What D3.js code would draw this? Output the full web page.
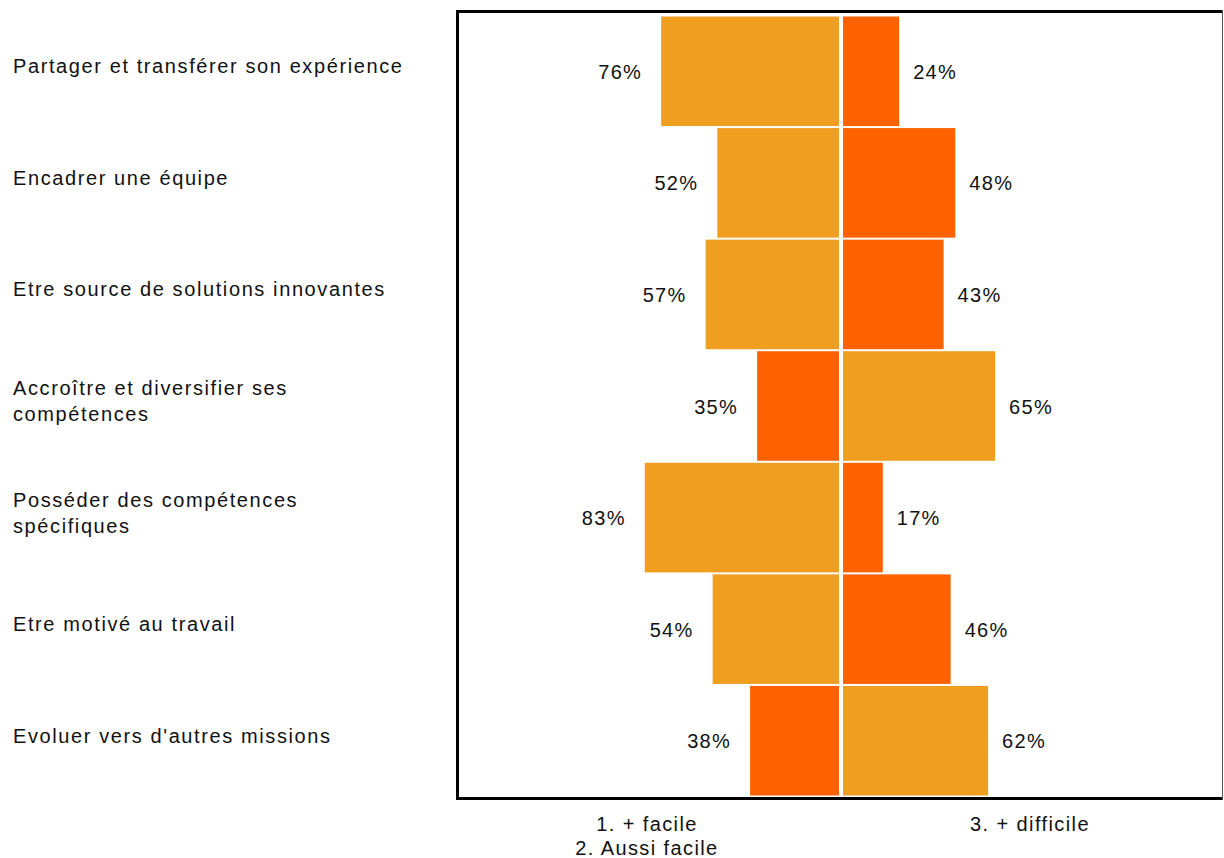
<!DOCTYPE html>
<meta charset="utf-8">
<script src="https://d3js.org/d3.v7.min.js"></script>
<style>
  body { margin: 0; background: #fff; }
  text { font-family: Arial, "Liberation Sans", sans-serif; font-size: 20px; fill: #111; letter-spacing: 1.6px; }
</style>
<div id="chart"></div>
<script>

// data
const categories = [
  ["Partager et transférer son expérience"],
  ["Encadrer une équipe"],
  ["Etre source de solutions innovantes"],
  ["Accroître et diversifier ses", "compétences"],
  ["Posséder des compétences", "spécifiques"],
  ["Etre motivé au travail"],
  ["Evoluer vers d'autres missions"]
]
const easier = [76, 52, 57, 35, 83, 54, 38]     // 1. + facile / 2. Aussi facile
const harder = [24, 48, 43, 65, 17, 46, 62]     // 3. + difficile
const legendLeft = ["1. + facile", "2. Aussi facile"]
const legendRight = ["3. + difficile"]

const light = "#f09e1f", dark = "#ff6200"

const W = 1224, H = 858
const cx = 841, gap = 2

const svg = d3.select("#chart").append("svg")
    .attr("width", W).attr("height", H)

const y = d3.scaleBand()
  .domain(d3.range(categories.length))
  .range([16.5, 795.5])
  .paddingInner(0.018)

const x = d3.scaleLinear().domain([0, 100]).range([0, 234])

const rows = categories.map((c, i) => ({i: i, label: c, left: easier[i], right: harder[i]}))

// frame
svg.append("path")
  .attr("d", "M1222,11.5 H457.5 V798.5 H1222")
  .attr("fill", "none").attr("stroke", "#000").attr("stroke-width", 3)
svg.append("line")
  .attr("x1", 1222.5).attr("x2", 1222.5).attr("y1", 10).attr("y2", 800)
  .attr("stroke", "#555").attr("stroke-width", 1)

// bars
svg.selectAll("rect.l").data(rows).join("rect")
    .attr("class", "l")
    .attr("x", d => cx - gap - x(d.left))
    .attr("y", d => y(d.i))
    .attr("width", d => x(d.left))
    .attr("height", y.bandwidth())
    .attr("fill", d => d.left >= d.right ? light : dark)

svg.selectAll("rect.r").data(rows).join("rect")
    .attr("class", "r")
    .attr("x", cx + gap)
    .attr("y", d => y(d.i))
    .attr("width", d => x(d.right))
    .attr("height", y.bandwidth())
    .attr("fill", d => d.right > d.left ? light : dark)

// value labels
svg.selectAll("text.lv").data(rows).join("text")
    .attr("class", "lv")
    .attr("x", d => cx - gap - x(d.left) - 19)
    .attr("y", d => y(d.i) + y.bandwidth() / 2 + 7.5)
    .attr("text-anchor", "end")
    .style("letter-spacing", "1.3px")
    .text(d => d.left + "%")

svg.selectAll("text.rv").data(rows).join("text")
    .attr("class", "rv")
    .attr("x", d => cx + gap + x(d.right) + 14)
    .attr("y", d => y(d.i) + y.bandwidth() / 2 + 7.5)
    .style("letter-spacing", "1.3px")
    .text(d => d.right + "%")

// category labels
const cat = svg.selectAll("text.cat").data(rows).join("text")
    .attr("class", "cat")
    .attr("x", 13)
    .attr("y", d => y(d.i) + y.bandwidth() / 2 + 2 - (d.label.length - 1) * 13)
cat.selectAll("tspan").data(d => d.label).join("tspan")
    .attr("x", 13)
    .attr("dy", (t, j) => j === 0 ? 0 : 26)
    .text(t => t)

// bottom legend
svg.selectAll("text.ll").data(legendLeft).join("text")
    .attr("class", "ll")
    .attr("x", 647)
    .attr("y", (t, j) => 831 + j * 24)
    .attr("text-anchor", "middle")
    .style("letter-spacing", "1.4px")
    .text(t => t)

svg.selectAll("text.lr").data(legendRight).join("text")
    .attr("class", "lr")
    .attr("x", 1030)
    .attr("y", 831)
    .attr("text-anchor", "middle")
    .style("letter-spacing", "1.4px")
    .text(t => t)

</script>
